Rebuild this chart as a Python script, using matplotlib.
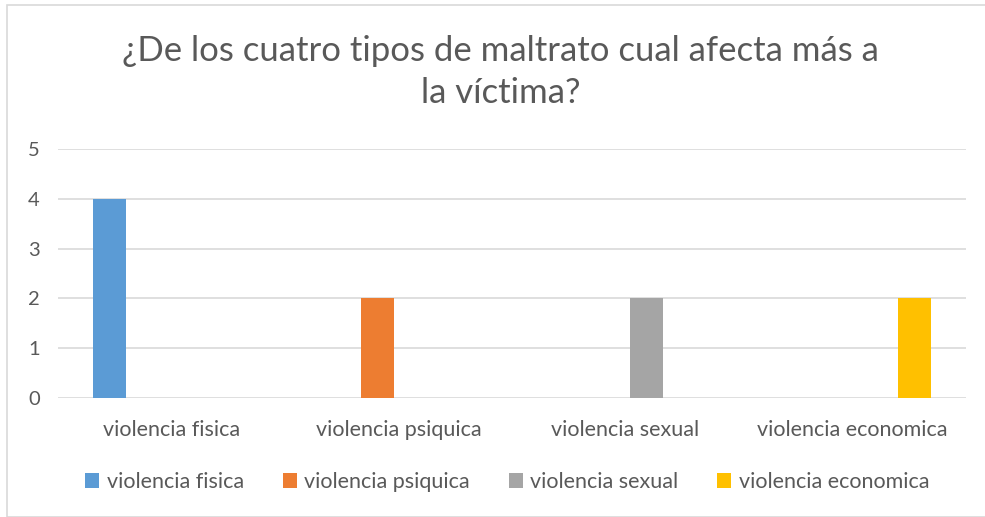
import numpy as np
import matplotlib.pyplot as plt
from matplotlib.patches import Rectangle

# Data

categories = ["violencia fisica", "violencia psiquica", "violencia sexual", "violencia economica"]
series_names = ["violencia fisica", "violencia psiquica", "violencia sexual", "violencia economica"]
fisica = [4, 0, 0, 0]
psiquica = [0, 2, 0, 0]
sexual = [0, 0, 2, 0]
economica = [0, 0, 0, 2]
colors = ["#5B9BD5", "#ED7D31", "#A5A5A5", "#FFC000"]

title = "¿De los cuatro tipos de maltrato cual afecta más a\nla víctima?"

plt.rcParams["font.family"] = ["Lato", "DejaVu Sans"]
text_color = "#595959"

fig = plt.figure(figsize=(9.85, 5.17), dpi=100)
ax = fig.add_axes([58 / 985, 1 - 398 / 517, (966 - 58) / 985, (398 - 149) / 517])

x = np.arange(len(categories))
bar_w = 0.145
step = 0.182
for i, (name, vals) in enumerate(zip(series_names, [fisica, psiquica, sexual, economica])):
    ax.bar(x + (i - 1.5) * step, vals, width=bar_w, color=colors[i], label=name, zorder=3)

ax.set_xlim(-0.5, len(categories) - 0.5)
ax.set_ylim(0, 5)
ax.set_yticks(range(6))
ax.set_xticks(x)
ax.set_xticklabels(categories)
ax.grid(axis="y", color="#D9D9D9", linewidth=1.2, zorder=0)
ax.tick_params(axis="both", length=0, colors=text_color)
ax.tick_params(axis="x", pad=16, labelsize=15.5)
ax.tick_params(axis="y", pad=13, labelsize=14.5)
for s in ax.spines.values():
    s.set_visible(False)

fig.text(0.508, 1 - 72 / 517, title, ha="center", va="center", fontsize=25,
         color=text_color, linespacing=1.4)

fig.legend(loc="center", bbox_to_anchor=(0.515, 1 - 482 / 517), ncol=4, frameon=False,
           fontsize=15.5, labelcolor=text_color, handlelength=0.65, handleheight=0.65,
           handletextpad=0.35, columnspacing=1.8)

fig.patches.append(Rectangle((7 / 985, 0), 1, 1 - 5 / 517, transform=fig.transFigure,
                             fill=False, edgecolor="#D9D9D9", linewidth=1.2))

fig.savefig("out.png", dpi=100)
